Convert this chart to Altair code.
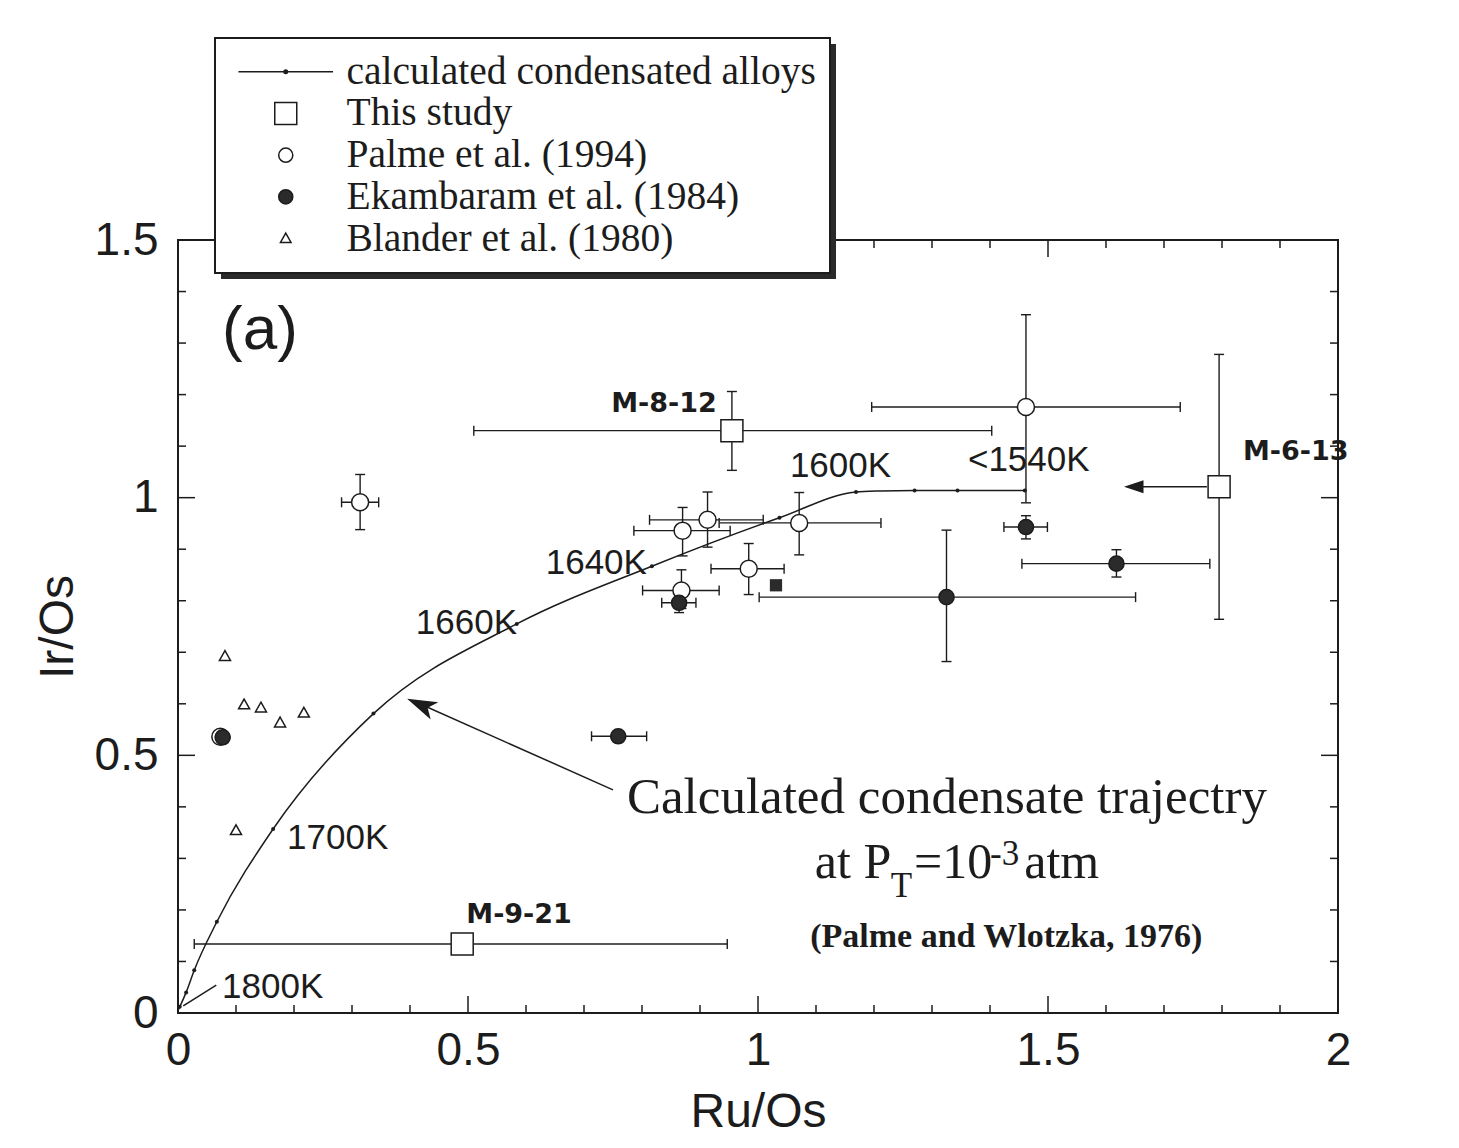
import altair as alt
import pandas as pd
import numpy as np

# ---------------- data ----------------
series_names = ["calculated condensated alloys", "This study", "Palme et al. (1994)",
                "Ekambaram et al. (1984)", "Blander et al. (1980)"]

# calculated condensate trajectory (dots = temperature steps)
calc_dot_x = [0.003, 0.014, 0.028, 0.067, 0.164, 0.337, 0.584, 0.817, 1.037, 1.169, 1.270, 1.344, 1.460]
calc_dot_y = [0.012, 0.040, 0.083, 0.177, 0.357, 0.581, 0.755, 0.867, 0.961, 1.011, 1.014, 1.014, 1.014]
calc_line_x = [0.0, 0.003, 0.014, 0.028, 0.067, 0.164, 0.337, 0.584, 0.817, 1.037, 1.169, 1.210, 1.270, 1.344, 1.460]
calc_line_y = [0.005, 0.012, 0.040, 0.083, 0.177, 0.357, 0.581, 0.755, 0.867, 0.961, 1.011, 1.013, 1.014, 1.014, 1.014]

# This study (open squares)
this_x = [0.955, 1.795, 0.490]
this_y = [1.130, 1.021, 0.134]
this_xlo = [0.510, None, 0.028]
this_xhi = [1.403, None, 0.947]
this_ylo = [1.053, 0.764, None]
this_yhi = [1.206, 1.278, None]

# Palme et al. (1994) (open circles)
palme_x = [0.314, 0.870, 0.913, 1.071, 0.984, 0.868, 1.462, 0.073]
palme_y = [0.991, 0.936, 0.957, 0.951, 0.862, 0.820, 1.176, 0.536]
palme_xlo = [0.282, 0.786, 0.813, 0.933, 0.919, 0.801, 1.196, None]
palme_xhi = [0.346, 0.952, 1.009, 1.212, 1.045, 0.933, 1.728, None]
palme_ylo = [0.938, 0.887, 0.904, 0.889, 0.812, 0.785, 0.990, None]
palme_yhi = [1.045, 0.981, 1.011, 1.010, 0.911, 0.860, 1.355, None]

# Ekambaram et al. (1984) (filled circles)
ekam_x = [0.864, 1.325, 1.462, 1.618, 0.759, 0.077]
ekam_y = [0.796, 0.807, 0.943, 0.872, 0.537, 0.535]
ekam_xlo = [0.834, 1.002, 1.424, 1.455, 0.713, None]
ekam_xhi = [0.893, 1.651, 1.499, 1.779, 0.808, None]
ekam_ylo = [0.777, 0.682, 0.920, 0.846, None, None]
ekam_yhi = [0.815, 0.937, 0.965, 0.899, None, None]

# Blander et al. (1980) (open triangles)
blander_x = [0.081, 0.114, 0.143, 0.176, 0.217, 0.100]
blander_y = [0.692, 0.598, 0.592, 0.563, 0.582, 0.354]

# unlabelled filled square
fsq_x = [1.031]
fsq_y = [0.830]

# axis ticks
x_major = [0.5, 1.0, 1.5]
x_minor = [0.1, 0.2, 0.3, 0.4, 0.6, 0.7, 0.8, 0.9, 1.1, 1.2, 1.3, 1.4, 1.6, 1.7, 1.8, 1.9]
y_major = [0.5, 1.0]
y_minor = [0.1, 0.2, 0.3, 0.4, 0.6, 0.7, 0.8, 0.9, 1.1, 1.2, 1.3, 1.4]
x_labels = [0, 0.5, 1, 1.5, 2]
y_labels = [0, 0.5, 1, 1.5]

# ---------------- layout / style ----------------
W, H = 1160, 773
INK = "#1c1c1c"
SANS = "Liberation Sans"
SERIF = "Liberation Serif"

xs = alt.Scale(domain=[0, 2], nice=False, zero=False)
ys = alt.Scale(domain=[0, 1.5], nice=False, zero=False)

xaxis = alt.Axis(values=x_labels, format="~g", title="Ru/Os", ticks=False, domain=False,
                 grid=False, labelFont=SANS, labelFontSize=46, labelColor=INK, labelPadding=15,
                 labelFlush=False, labelOverlap=False, titleFont=SANS, titleFontSize=48,
                 titleFontWeight="normal", titleColor=INK, titlePadding=15)
yaxis = alt.Axis(values=y_labels, format="~g", title="Ir/Os", ticks=False, domain=False,
                 grid=False, labelFont=SANS, labelFontSize=46, labelColor=INK, labelPadding=20,
                 labelFlush=False, labelOverlap=False, titleFont=SANS, titleFontSize=48,
                 titleFontWeight="normal", titleColor=INK, titlePadding=12)

R = 0.64  # circle radius in unit symbol coords
shape_paths = [
    "M-4.3,0H4.3M-0.16,0A0.16,0.16 0 1,0 0.16,0A0.16,0.16 0 1,0 -0.16,0Z",
    "M-1,-1H1V1H-1Z",
    f"M-{R},0A{R},{R} 0 1,0 {R},0A{R},{R} 0 1,0 -{R},0Z",
    f"M-{R},0A{R},{R} 0 1,0 {R},0A{R},{R} 0 1,0 -{R},0Z",
    "M0,-0.5L0.48,0.35H-0.48Z",
]
fill_colors = [INK, "white", "white", "#2b2b2b", "white"]

leg = alt.Legend(orient="none", legendX=37, legendY=-202, title=None,
                 labelFont=SERIF, labelFontSize=39.5, labelColor=INK, labelLimit=2000,
                 symbolSize=484, symbolStrokeWidth=1.5, symbolStrokeColor=INK,
                 symbolOffset=37, labelOffset=41, padding=14, rowPadding=0.7,
                 strokeColor=INK, fillColor="white")
shape_enc = alt.Shape("series:N", scale=alt.Scale(domain=series_names, range=shape_paths), legend=leg)
fill_enc = alt.Fill("series:N", scale=alt.Scale(domain=series_names, range=fill_colors), legend=leg)
stroke_enc = alt.Stroke("series:N", scale=alt.Scale(domain=series_names, range=[INK] * 5), legend=leg)


def pts(name, x, y, xlo=None, xhi=None, ylo=None, yhi=None):
    n = len(x)
    return pd.DataFrame({
        "series": [name] * n, "x": x, "y": y,
        "xlo": xlo if xlo else [None] * n, "xhi": xhi if xhi else [None] * n,
        "ylo": ylo if ylo else [None] * n, "yhi": yhi if yhi else [None] * n,
    })


df_this = pts(series_names[1], this_x, this_y, this_xlo, this_xhi, this_ylo, this_yhi)
df_palme = pts(series_names[2], palme_x, palme_y, palme_xlo, palme_xhi, palme_ylo, palme_yhi)
df_ekam = pts(series_names[3], ekam_x, ekam_y, ekam_xlo, ekam_xhi, ekam_ylo, ekam_yhi)
df_bl = pts(series_names[4], blander_x, blander_y)
df_err = pd.concat([df_this, df_palme, df_ekam], ignore_index=True)

X = lambda f: alt.X(f, type="quantitative", scale=xs, axis=xaxis)
Y = lambda f: alt.Y(f, type="quantitative", scale=ys, axis=yaxis)
XD = lambda v: alt.XDatum(v, type="quantitative", scale=xs, axis=xaxis)
YD = lambda v: alt.YDatum(v, type="quantitative", scale=ys, axis=yaxis)
EW = 1.4
CAP = 5

# error bars
eb = alt.Chart(df_err)
err_h = eb.transform_filter("isValid(datum.xlo)").mark_rule(color=INK, strokeWidth=EW).encode(
    x=X("xlo"), x2="xhi", y=Y("y"))
err_v = eb.transform_filter("isValid(datum.ylo)").mark_rule(color=INK, strokeWidth=EW).encode(
    x=X("x"), y=Y("ylo"), y2="yhi")
cap_xl = eb.transform_filter("isValid(datum.xlo)").mark_rule(color=INK, strokeWidth=EW, yOffset=-CAP, y2Offset=CAP).encode(
    x=X("xlo"), y=Y("y"), y2="y")
cap_xh = eb.transform_filter("isValid(datum.xhi)").mark_rule(color=INK, strokeWidth=EW, yOffset=-CAP, y2Offset=CAP).encode(
    x=X("xhi"), y=Y("y"), y2="y")
cap_yl = eb.transform_filter("isValid(datum.ylo)").mark_rule(color=INK, strokeWidth=EW, xOffset=-CAP, x2Offset=CAP).encode(
    x=X("x"), x2="x", y=Y("ylo"))
cap_yh = eb.transform_filter("isValid(datum.yhi)").mark_rule(color=INK, strokeWidth=EW, xOffset=-CAP, x2Offset=CAP).encode(
    x=X("x"), x2="x", y=Y("yhi"))

# calculated line
calc_line = alt.Chart(pd.DataFrame({"x": calc_line_x, "y": calc_line_y})).mark_line(
    interpolate="monotone", color=INK, strokeWidth=1.5).encode(
    x=X("x"), y=Y("y"), order=alt.Order("x:Q"))
calc_dots = alt.Chart(pd.DataFrame({"x": calc_dot_x, "y": calc_dot_y})).mark_circle(
    color=INK, size=16, opacity=1).encode(x=X("x"), y=Y("y"))


def sym(df, size):
    return alt.Chart(df).mark_point(filled=True, size=size, strokeWidth=1.5, opacity=1).encode(
        x=X("x"), y=Y("y"), shape=shape_enc, fill=fill_enc, stroke=stroke_enc)


p_this = sym(df_this, 484)
p_palme = sym(df_palme, 706)
p_ekam = sym(df_ekam, 560)
p_bl = sym(df_bl, 529)
p_sq = alt.Chart(pd.DataFrame({"x": fsq_x, "y": fsq_y})).mark_square(
    size=150, color="#2b2b2b", opacity=1).encode(x=X("x"), y=Y("y"))

# inward ticks on all four sides
one = pd.DataFrame({"a": [0]})


def xticks(vals, L):
    d = pd.DataFrame({"t": vals})
    b = alt.Chart(d).mark_rule(color=INK, strokeWidth=1.5).encode(x=X("t"), y=alt.value(H), y2=alt.value(H - L))
    t = alt.Chart(d).mark_rule(color=INK, strokeWidth=1.5).encode(x=X("t"), y=alt.value(0), y2=alt.value(L))
    return [b, t]


def yticks(vals, L):
    d = pd.DataFrame({"t": vals})
    l = alt.Chart(d).mark_rule(color=INK, strokeWidth=1.5).encode(y=Y("t"), x=alt.value(0), x2=alt.value(L))
    r = alt.Chart(d).mark_rule(color=INK, strokeWidth=1.5).encode(y=Y("t"), x=alt.value(W), x2=alt.value(W - L))
    return [l, r]


ticks = xticks(x_major, 17) + xticks(x_minor, 8) + yticks(y_major, 17) + yticks(y_minor, 8)


def txt(s, x, y, size, font=SANS, align="left", baseline="middle", weight="normal"):
    return alt.Chart(one).mark_text(text=s, font=font, fontSize=size, align=align, baseline=baseline,
                                    fontWeight=weight, color=INK).encode(x=XD(x), y=YD(y))


def seg(x1, y1, x2, y2, w=1.5):
    return alt.Chart(one).mark_rule(color=INK, strokeWidth=w).encode(
        x=XD(x1), y=YD(y1), x2=alt.X2Datum(x2), y2=alt.Y2Datum(y2))


def head(x, y, angle, size, path):
    return alt.Chart(one).mark_point(shape=path, size=size, angle=angle, filled=True, color=INK,
                                     opacity=1, strokeWidth=0.5).encode(x=XD(x), y=YD(y))


LBL = "DejaVu Sans"
annots = [
    txt("(a)", 0.076, 1.289, 62, baseline="alphabetic"),
    txt("M-8-12", 0.929, 1.181, 27, font=LBL, align="right", weight="bold"),
    txt("M-6-13", 1.836, 1.089, 27, font=LBL, weight="bold"),
    txt("M-9-21", 0.497, 0.190, 27, font=LBL, weight="bold"),
    txt("1600K", 1.055, 1.062, 35),
    txt("<1540K", 1.362, 1.074, 35),
    txt("1640K", 0.634, 0.874, 35),
    txt("1660K", 0.410, 0.757, 35),
    txt("1700K", 0.188, 0.340, 35),
    txt("1800K", 0.076, 0.050, 35),
    txt("Calculated condensate trajectry", 0.774, 0.388, 51, font=SERIF, baseline="alphabetic"),
    txt("at P", 1.098, 0.262, 50, font=SERIF, baseline="alphabetic"),
    txt("T", 1.229, 0.225, 35, font=SERIF, baseline="alphabetic"),
    txt("=10", 1.269, 0.262, 50, font=SERIF, baseline="alphabetic"),
    txt("-3", 1.400, 0.287, 35, font=SERIF, baseline="alphabetic"),
    txt("atm", 1.459, 0.262, 50, font=SERIF, baseline="alphabetic"),
    txt("(Palme and Wlotzka, 1976)", 1.090, 0.128, 34, font=SERIF, baseline="alphabetic", weight="bold"),
    seg(0.750, 0.433, 0.405, 0.606),
    head(0.395, 0.610, 294, 1406, "M0,0L0.5,1.6L0,1.2L-0.5,1.6Z"),
    seg(1.774, 1.021, 1.650, 1.021),
    head(1.631, 1.021, 270, 676, "M0,0L0.5,1.5L-0.5,1.5Z"),
    seg(0.066, 0.054, 0.009, 0.014),
]

shadow = alt.Chart(one).mark_rect(color="#2a2a2a").encode(
    x=alt.value(43), x2=alt.value(658), y=alt.value(-196), y2=alt.value(39))

chart = alt.layer(
    calc_line, shadow, *ticks, err_h, err_v, cap_xl, cap_xh, cap_yl, cap_yh,
    calc_dots, p_this, p_palme, p_bl, p_ekam, p_sq, *annots
).properties(
    width=W, height=H,
    autosize=alt.AutoSizeParams(type="none"),
    padding={"left": 178, "top": 240, "right": 121, "bottom": 135},
    background="white",
).configure_view(stroke=INK, strokeWidth=2).configure_legend(strokeWidth=2)

chart.save("out.html", embed_options={"renderer": "svg", "actions": False})
